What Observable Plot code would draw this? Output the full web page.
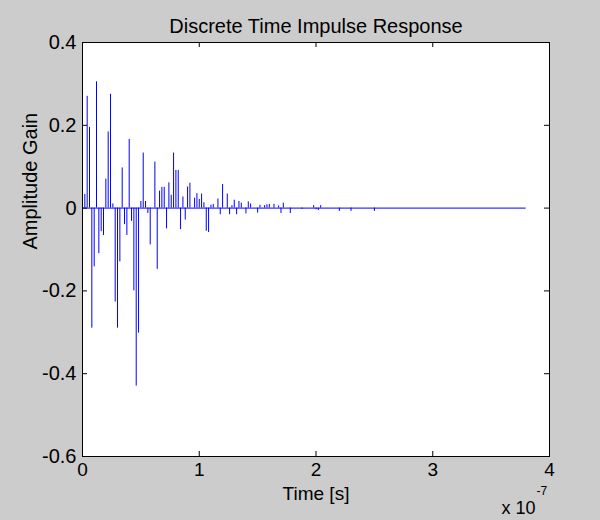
<!DOCTYPE html>
<html>
<head>
<meta charset="utf-8">
<script src="https://cdn.jsdelivr.net/npm/d3@7"></script>
<script src="https://cdn.jsdelivr.net/npm/@observablehq/plot@0.6"></script>
<style>
  html, body { margin: 0; padding: 0; background: #cccccc; }
  #chart { width: 600px; height: 520px; }
</style>
</head>
<body>
<div id="chart"></div>
<script>
// ---- data (time in nanoseconds, amplitude gain) ----
const timeNs = [0,2,4,6,8,10,12,14,16,18,20,22,24,26,28,30,32,34,36,38,40,42,44,46,48,50,52,54,56,58,
  62,64,66,68,70,72,74,76,78,80,82,84,86,88,90,92,96,98,100,102,104,106,108,110,112,116,118,120,124,126,
  128,130,132,134,136,140,142,144,150,152,156,158,160,164,168,170,172,178,188,198,200,202,204,220,230,250];
const amplitude = [0.057,0.033,0.27,0.195,-0.29,-0.142,0.305,-0.11,-0.057,-0.066,0.07,0.184,0.275,0.01,-0.227,-0.29,-0.13,0.097,-0.04,-0.066,
  0.166,-0.032,-0.2,-0.43,-0.302,0.016,0.133,0.016,-0.013,-0.089,
  0.111,-0.148,0.041,0.05,0.05,-0.05,0.061,0.031,0.133,0.091,0.091,-0.052,0.027,-0.029,0.051,0.06,0.024,0.035,0.021,0.034,0.013,-0.056,-0.059,0.007,0.009,
  0.022,-0.016,0.057,0.034,-0.016,0.006,0.019,-0.016,0.016,0.012,-0.014,0.015,0.01,-0.012,0.007,0.006,0.008,0.009,0.009,0.005,-0.013,0.012,-0.013,
  -0.003,0.006,-0.004,-0.006,0.006,-0.008,-0.008,-0.008];
const baselineEndNs = 380;
const xTicks = [0, 100, 200, 300, 400];        // ns -> labelled in units of 1e-7 s
const yTicks = [-0.6, -0.4, -0.2, 0, 0.2, 0.4];
const titleText = "Discrete Time Impulse Response";
const xLabel = "Time [s]";
const yLabel = "Amplitude Gain";
const xExpBase = "x 10";
const xExp = "-7";

const stems = timeNs.map((t, i) => ({t, v: amplitude[i]}));

const W = 600, H = 520;
const M = {top: 42, right: 51, bottom: 64, left: 82};
const FW = W - M.left - M.right, FH = H - M.top - M.bottom;
const font = "'Liberation Sans', Arial, Helvetica, sans-serif";
const tick = 5;

const chart = Plot.plot({
  width: W, height: H,
  marginTop: M.top, marginRight: M.right, marginBottom: M.bottom, marginLeft: M.left,
  style: {background: "#cccccc", fontFamily: font, color: "black"},
  x: {domain: [0, 400]},
  y: {domain: [-0.6, 0.4]},
  marks: [
    Plot.frame({fill: "white", stroke: "none"}),
    Plot.ruleY([0], {x1: 0, x2: baselineEndNs, stroke: "#0000ff", strokeWidth: 1}),
    Plot.ruleX(stems, {x: "t", y1: 0, y2: "v", stroke: "#0000ff", strokeWidth: 1}),
    // inward tick marks on all four sides
    Plot.ruleX(xTicks, {x: d => d, insetTop: FH - tick, stroke: "black"}),
    Plot.ruleX(xTicks, {x: d => d, insetBottom: FH - tick, stroke: "black"}),
    Plot.ruleY(yTicks, {y: d => d, insetRight: FW - tick, stroke: "black"}),
    Plot.ruleY(yTicks, {y: d => d, insetLeft: FW - tick, stroke: "black"}),
    Plot.frame({stroke: "black", fill: "none"}),
    Plot.axisX(xTicks, {tickSize: 0, tickPadding: 6, fontSize: 19, tickFormat: d => `${d / 100}`, label: null}),
    Plot.axisY(yTicks, {tickSize: 0, tickPadding: 6, fontSize: 20, tickFormat: d => `${+d.toFixed(1)}`, label: null}),
    Plot.text([titleText], {frameAnchor: "top", dy: -24, fontSize: 20, fill: "black"}),
    Plot.text([xLabel], {frameAnchor: "bottom", dy: 43, fontSize: 19, fill: "black"}),
    Plot.text([yLabel], {frameAnchor: "left", dx: -52, rotate: -90, fontSize: 20, fill: "black"}),
    Plot.text([xExpBase], {frameAnchor: "bottom-right", dx: -14, dy: 57, textAnchor: "end", fontSize: 18, fill: "black"}),
    Plot.text([xExp], {frameAnchor: "bottom-right", dx: -13, dy: 38, textAnchor: "start", fontSize: 12, fill: "black"})
  ]
});
document.getElementById("chart").append(chart);
</script>
</body>
</html>
